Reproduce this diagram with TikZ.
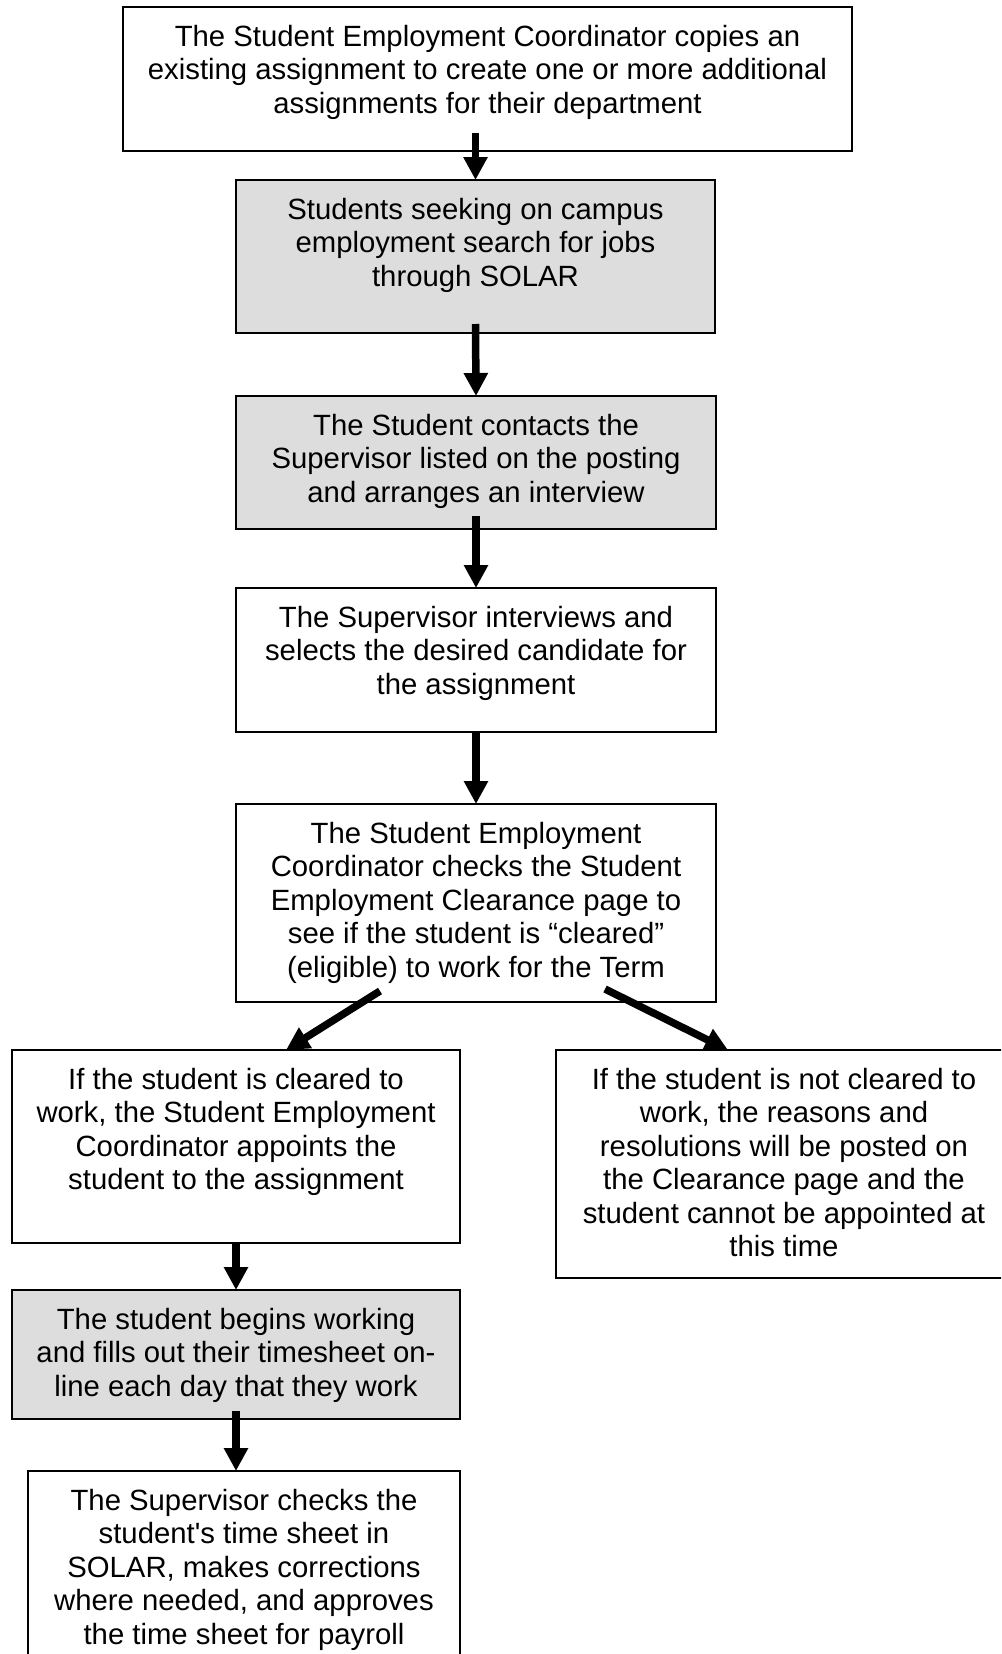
\documentclass[tikz,border=0pt]{standalone}
\usepackage{fontspec}
\setmainfont{Liberation Sans}[Ligatures=TeXOff]
\usetikzlibrary{arrows.meta,calc}
\definecolor{boxgray}{RGB}{221,221,221}
\begin{document}
\begin{tikzpicture}[x=1pt,y=-1pt,
  box/.style={draw=black, line width=2pt, inner sep=0pt, outer sep=0pt, anchor=north west},
  graybox/.style={box, fill=boxgray},
  txt/.style={font=\fontsize{29.3}{33.4}\selectfont, align=center, inner sep=0pt, anchor=north},
  arr/.style={line width=7.5pt, -{Triangle[width=23pt,length=23pt]}}]
\useasboundingbox (0,0) rectangle (1001,1654);
\fill[white] (0,0) rectangle (1001,1654);
\clip (0,0) rectangle (1001,1654);
% boxes
\node[box, minimum width=729pt, minimum height=144pt] (b1) at (123,7) {};
\node[graybox, minimum width=479pt, minimum height=153pt] (b2) at (236,180) {};
\node[graybox, minimum width=480pt, minimum height=133pt] (b3) at (236,396) {};
\node[box, minimum width=480pt, minimum height=144pt] (b4) at (236,588) {};
\node[box, minimum width=480pt, minimum height=198pt] (b5) at (236,804) {};
\node[box, minimum width=448pt, minimum height=193pt] (b6) at (12,1050) {};
\node[box, minimum width=456pt, minimum height=228pt] (b7) at (556,1050) {};
\node[graybox, minimum width=448pt, minimum height=129pt] (b8) at (12,1290) {};
\node[box, minimum width=432pt, minimum height=220pt] (b9) at (28,1471) {};
% texts
\node[txt] (t1) at ([yshift=-18pt]b1.north) {The Student Employment Coordinator copies an\\existing assignment to create one or more additional\\assignments for their department};
\node[txt] (t2) at ([yshift=-18pt]b2.north) {Students seeking on campus\\employment search for jobs\\through SOLAR};
\node[txt] (t3) at ([yshift=-18pt]b3.north) {The Student contacts the\\Supervisor listed on the posting\\and arranges an interview};
\node[txt] (t4) at ([yshift=-18pt]b4.north) {The Supervisor interviews and\\selects the desired candidate for\\the assignment};
\node[txt] (t5) at ([yshift=-18pt]b5.north) {The Student Employment\\Coordinator checks the Student\\Employment Clearance page to\\see if the student is “cleared”\\(eligible) to work for the Term};
\node[txt] (t6) at ([yshift=-18pt]b6.north) {If the student is cleared to\\work, the Student Employment\\Coordinator appoints the\\student to the assignment};
\node[txt] (t7) at ([yshift=-18pt]b7.north) {If the student is not cleared to\\work, the reasons and\\resolutions will be posted on\\the Clearance page and the\\student cannot be appointed at\\this time};
\node[txt] (t8) at ([yshift=-18pt]b8.north) {The student begins working\\and fills out their timesheet on-\\line each day that they work};
\node[txt] (t9) at ([yshift=-18pt]b9.north) {The Supervisor checks the\\student's time sheet in\\SOLAR, makes corrections\\where needed, and approves\\the time sheet for payroll};
% arrows
\draw[arr] ($(b2.north |- b1.south)+(0,-18)$) -- (b2.north);
\draw[arr] ($(b2.south)+(0,-9)$) -- (b3.north);
\draw[arr] ($(b3.south)+(0,-13)$) -- (b4.north);
\draw[arr] (b4.south) -- (b5.north);
\draw[arr] ($(b5.south)+(-96,-11)$) -- ($(b6.north)+(50,0)$);
\draw[arr] ($(b5.south)+(129,-13)$) -- ($(b7.north)+(-56,0)$);
\draw[arr] (b6.south) -- (b8.north);
\draw[arr] ($(b8.south)+(0,-8)$) -- (b8.south |- b9.north);
\end{tikzpicture}
\end{document}
